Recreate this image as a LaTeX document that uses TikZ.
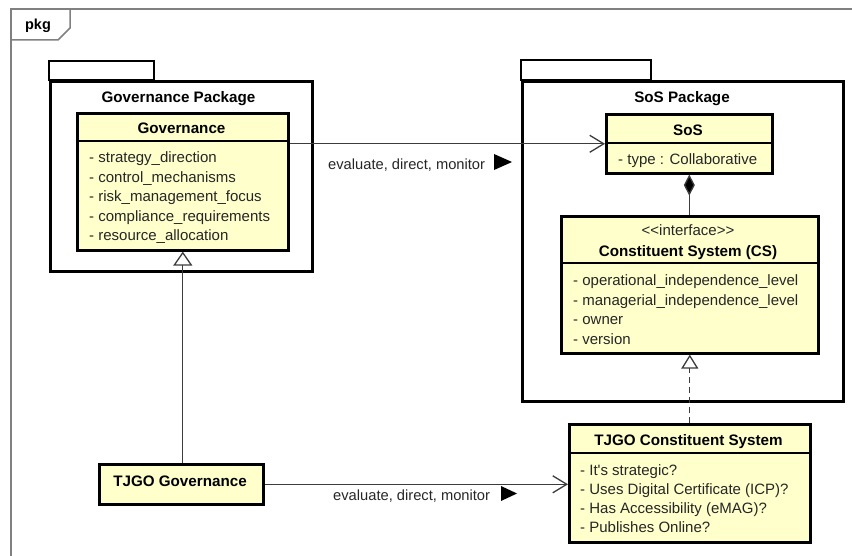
\documentclass[tikz,border=0pt]{standalone}
\usepackage{fontspec}
\setmainfont{Liberation Sans}
\usetikzlibrary{arrows.meta}
\definecolor{clsfill}{RGB}{255,255,204}
\definecolor{framegray}{RGB}{128,128,128}
\definecolor{connc}{RGB}{60,60,60}
\begin{document}
\begin{tikzpicture}[x=1pt,y=-1pt,
  clsbox/.style={draw, line width=2.6pt, fill=clsfill, inner sep=0pt, anchor=north west},
  pkgbox/.style={draw, line width=2.6pt, fill=white, inner sep=0pt, anchor=north west},
  sepline/.style={line width=1.2pt},
  ttl/.style={font=\bfseries\fontsize{15.2}{17}\selectfont, inner sep=0pt, anchor=base},
  attr/.style={font=\fontsize{15}{17}\selectfont, inner sep=0pt, anchor=base west, text=black!85},
  conn/.style={draw=connc, line width=1.3pt},
  lbl/.style={font=\fontsize{14.7}{17}\selectfont, inner sep=0pt, anchor=base west, text=black!85},
  openv/.style={-{Straight Barb[length=14pt,width=17pt]}}
]
\useasboundingbox (0,0) rectangle (852,556);
% outer frame
\draw[framegray, line width=1.5pt] (852,9) -- (11,9) -- (11,556);
\draw[framegray, line width=1.5pt] (11,40) -- (58,40) -- (70,28) -- (70,9);
\node[font=\bfseries\fontsize{14.5}{16}\selectfont, inner sep=0pt, anchor=base] (pkglbl) at (38,30) {pkg};

% Governance package
\draw[line width=2.6pt] (49,80) rectangle (154,61);
\node[pkgbox, minimum width=262pt, minimum height=190pt] (govpkg) at (49,80) {};
\node[ttl] (govpkgt) at (178.5,102.5) {Governance Package};

% Governance class
\node[clsbox, minimum width=211pt, minimum height=137pt] (gov) at (76,112) {};
\node[ttl] (govt) at (181.5,133.5) {Governance};
\draw[sepline] (76,141) -- (287,141);
\foreach \t [count=\i from 0] in {strategy\_direction,control\_mechanisms,risk\_management\_focus,compliance\_requirements,resource\_allocation}
  \node[attr] (gova\i) at (89,163+19.5*\i) {- \t};

% SoS package
\draw[line width=2.6pt] (521,80) rectangle (651,60);
\node[pkgbox, minimum width=321pt, minimum height=320pt] (sospkg) at (521,80) {};
\node[ttl] (sospkgt) at (682,102.5) {SoS Package};

% SoS class
\node[clsbox, minimum width=166pt, minimum height=59pt] (sos) at (605,113) {};
\node[ttl] (sost) at (688,135.5) {SoS};
\draw[sepline] (605,143) -- (771,143);
\node[attr] (sosa) at (618,164.5) {- type : Collaborative};

% Constituent System class
\node[clsbox, minimum width=257pt, minimum height=137pt] (cs) at (560,215) {};
\node[font=\fontsize{15}{17}\selectfont, inner sep=0pt, anchor=base, text=black!85] (cst1) at (688,236) {<{}<interface>{}>};
\node[ttl] (cst2) at (688,256.5) {Constituent System (CS)};
\draw[sepline] (560,263) -- (817,263);
\foreach \t [count=\i from 0] in {operational\_independence\_level,managerial\_independence\_level,owner,version}
  \node[attr] (csa\i) at (573,286+19.4*\i) {- \t};

% TJGO Constituent System
\node[clsbox, minimum width=241pt, minimum height=118pt] (tjcs) at (568,423) {};
\node[ttl] (tjcst) at (688.5,445.7) {TJGO Constituent System};
\draw[sepline] (568,453) -- (809,453);
\foreach \t [count=\i from 0] in {It\textquotesingle s strategic?,Uses Digital Certificate (ICP)?,Has Accessibility (eMAG)?,Publishes Online?}
  \node[attr] (tja\i) at (580,475+19.2*\i) {- \t};

% TJGO Governance
\node[clsbox, minimum width=164pt, minimum height=40pt] (tjgov) at (98,463) {};
\node[ttl] (tjgovt) at (180,486.5) {TJGO Governance};

% connectors
\draw[conn, openv] (gov.east |- sos.west) -- (sos.west);
\node[lbl] (l1) at (328,169.3) {evaluate, direct, monitor};
\fill (494,154) -- (512,162) -- (494,170) -- cycle;

\draw[conn, openv] (tjgov.east) -- (tjgov.east -| tjcs.west);
\node[lbl] (l2) at (333,500.7) {evaluate, direct, monitor};
\fill (501,486) -- (517,493.5) -- (501,501) -- cycle;

\draw[conn, -{Triangle[open,length=14pt,width=19pt,fill=white]}] (tjgov.north -| gov.south) -- (gov.south);
\draw[conn, {Diamond[length=21pt,width=11pt,fill=black]}-] (sos.south) -- (sos.south |- cs.north);
\draw[conn, dash pattern=on 6pt off 4pt, -{Triangle[open,length=14pt,width=17pt,fill=white]}] (tjcs.north -| cs.south) -- (cs.south);
\end{tikzpicture}
\end{document}
